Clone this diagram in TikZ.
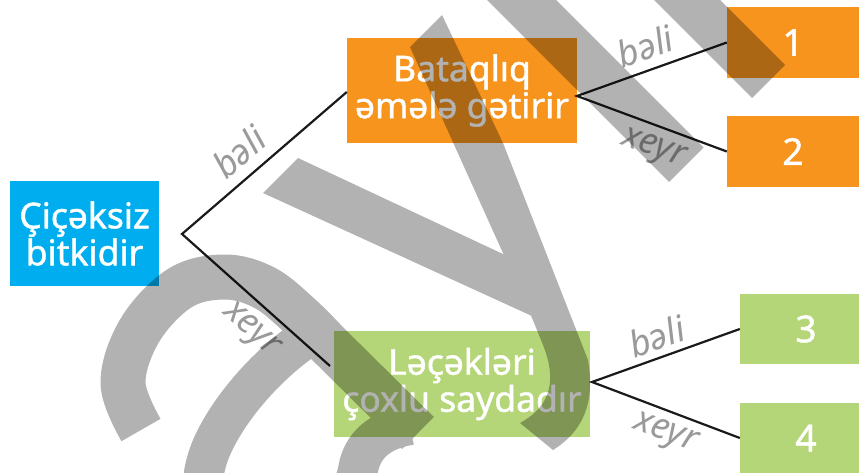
\documentclass[tikz,border=0pt]{standalone}
\usepackage{fontspec}
\setmainfont{Noto Sans}
\newfontfamily\boxfont[FakeBold=1.2]{Noto Sans}
\definecolor{cblue}{HTML}{00AEEF}
\definecolor{corange}{HTML}{F7941D}
\definecolor{cgreen}{HTML}{B5D678}
\definecolor{clabel}{HTML}{9A9A9A}
\definecolor{cline}{HTML}{1A1A1A}
\begin{document}
\begin{tikzpicture}[x=1pt,y=-1pt,
  box/.style={inner sep=0pt, align=center, text=white, font=\boxfont\fontsize{35.5}{37}\selectfont},
  numbox/.style={box, minimum width=132pt, minimum height=71pt, font=\boxfont\fontsize{37}{40}\selectfont},
  lbl/.style={text=clabel, inner sep=0pt, font=\fontsize{36}{36}\selectfont\itshape},
  link/.style={draw=cline, line width=2.2pt},
  wm/.style={black}]
\useasboundingbox (0,0) rectangle (859,473);
\clip (0,0) rectangle (859,473);
\fill[white] (0,0) rectangle (859,473);
% boxes
\node[box, fill=cblue, minimum width=149pt, minimum height=105pt] (start) at (84.5,233.5) {Çiçəksiz\\bitkidir};
\node[box, fill=corange, minimum width=230pt, minimum height=105pt] (bat) at (462,90.5) {Bataqlıq\\əmələ gətirir};
\node[box, fill=cgreen, minimum width=256pt, minimum height=106pt] (lec) at (462,384) {Ləçəkləri\\çoxlu saydadır};
\node[numbox, fill=corange] (n1) at (793,42.5) {1};
\node[numbox, fill=corange] (n2) at (793,151.5) {2};
\node[numbox, fill=cgreen, minimum height=70pt] (n3) at (806,329) {3};
\node[numbox, fill=cgreen, minimum height=70pt] (n4) at (806,438) {4};
% connectors
\coordinate (f0) at (182,234);
\coordinate (e0) at (330,366);
\coordinate (f1) at (577,96);
\coordinate (f2) at (592,382);
\draw[link] (bat.west |- 0,92) -- (f0) -- (e0);
\draw[link] (n1.west) -- (f1) -- (n2.west);
\draw[link] (n3.west) -- (f2) -- (n4.west);
% labels
\node[lbl, rotate=40.7] (l1) at (239,152) {bəli};
\node[lbl, rotate=-41.7] (l2) at (250,331) {xeyr};
\node[lbl, rotate=19.5] (l3) at (645,46) {bəli};
\node[lbl, rotate=-20] (l4) at (653,150) {xeyr};
\node[lbl, rotate=19] (l5) at (657,336) {bəli};
\node[lbl, rotate=-20.4] (l6) at (665,435) {xeyr};
% watermark
\begin{scope}[transparency group, opacity=0.3]
  \fill[wm] (480,-7) -- (669,182) -- (703.5,147.5) -- (549,-7) -- cycle;
  \fill[wm] (647,-7) -- (752,98) -- (785,65) -- (713,-7) -- cycle;
  \fill[wm] (410,47) -- (530,313) -- (543,345) .. controls (556,378) and (553,405) .. (520,423)
     -- (553,450) .. controls (585,430) and (595,400) .. (588,360) -- (503,143) -- (442,15) -- cycle;
  \fill[wm] (263,193) -- (298,158) -- (520,262) -- (545,322) -- cycle;
  \draw[wm, line width=45pt, line join=round] plot[smooth, tension=0.6] coordinates
     {(141,430) (123,383) (140,330) (180,288) (225,277) (265,288) (300,316) (327,343)} -- (418,433);
  \draw[wm, line width=40pt, line join=round] (320,330) .. controls (290,345) and (240,390) .. (215,440)
     .. controls (195,480) and (195,530) .. (250,540) .. controls (310,550) and (350,510) .. (358,470)
     .. controls (362,445) and (380,430) .. (410,425);
\end{scope}
\end{tikzpicture}
\end{document}
